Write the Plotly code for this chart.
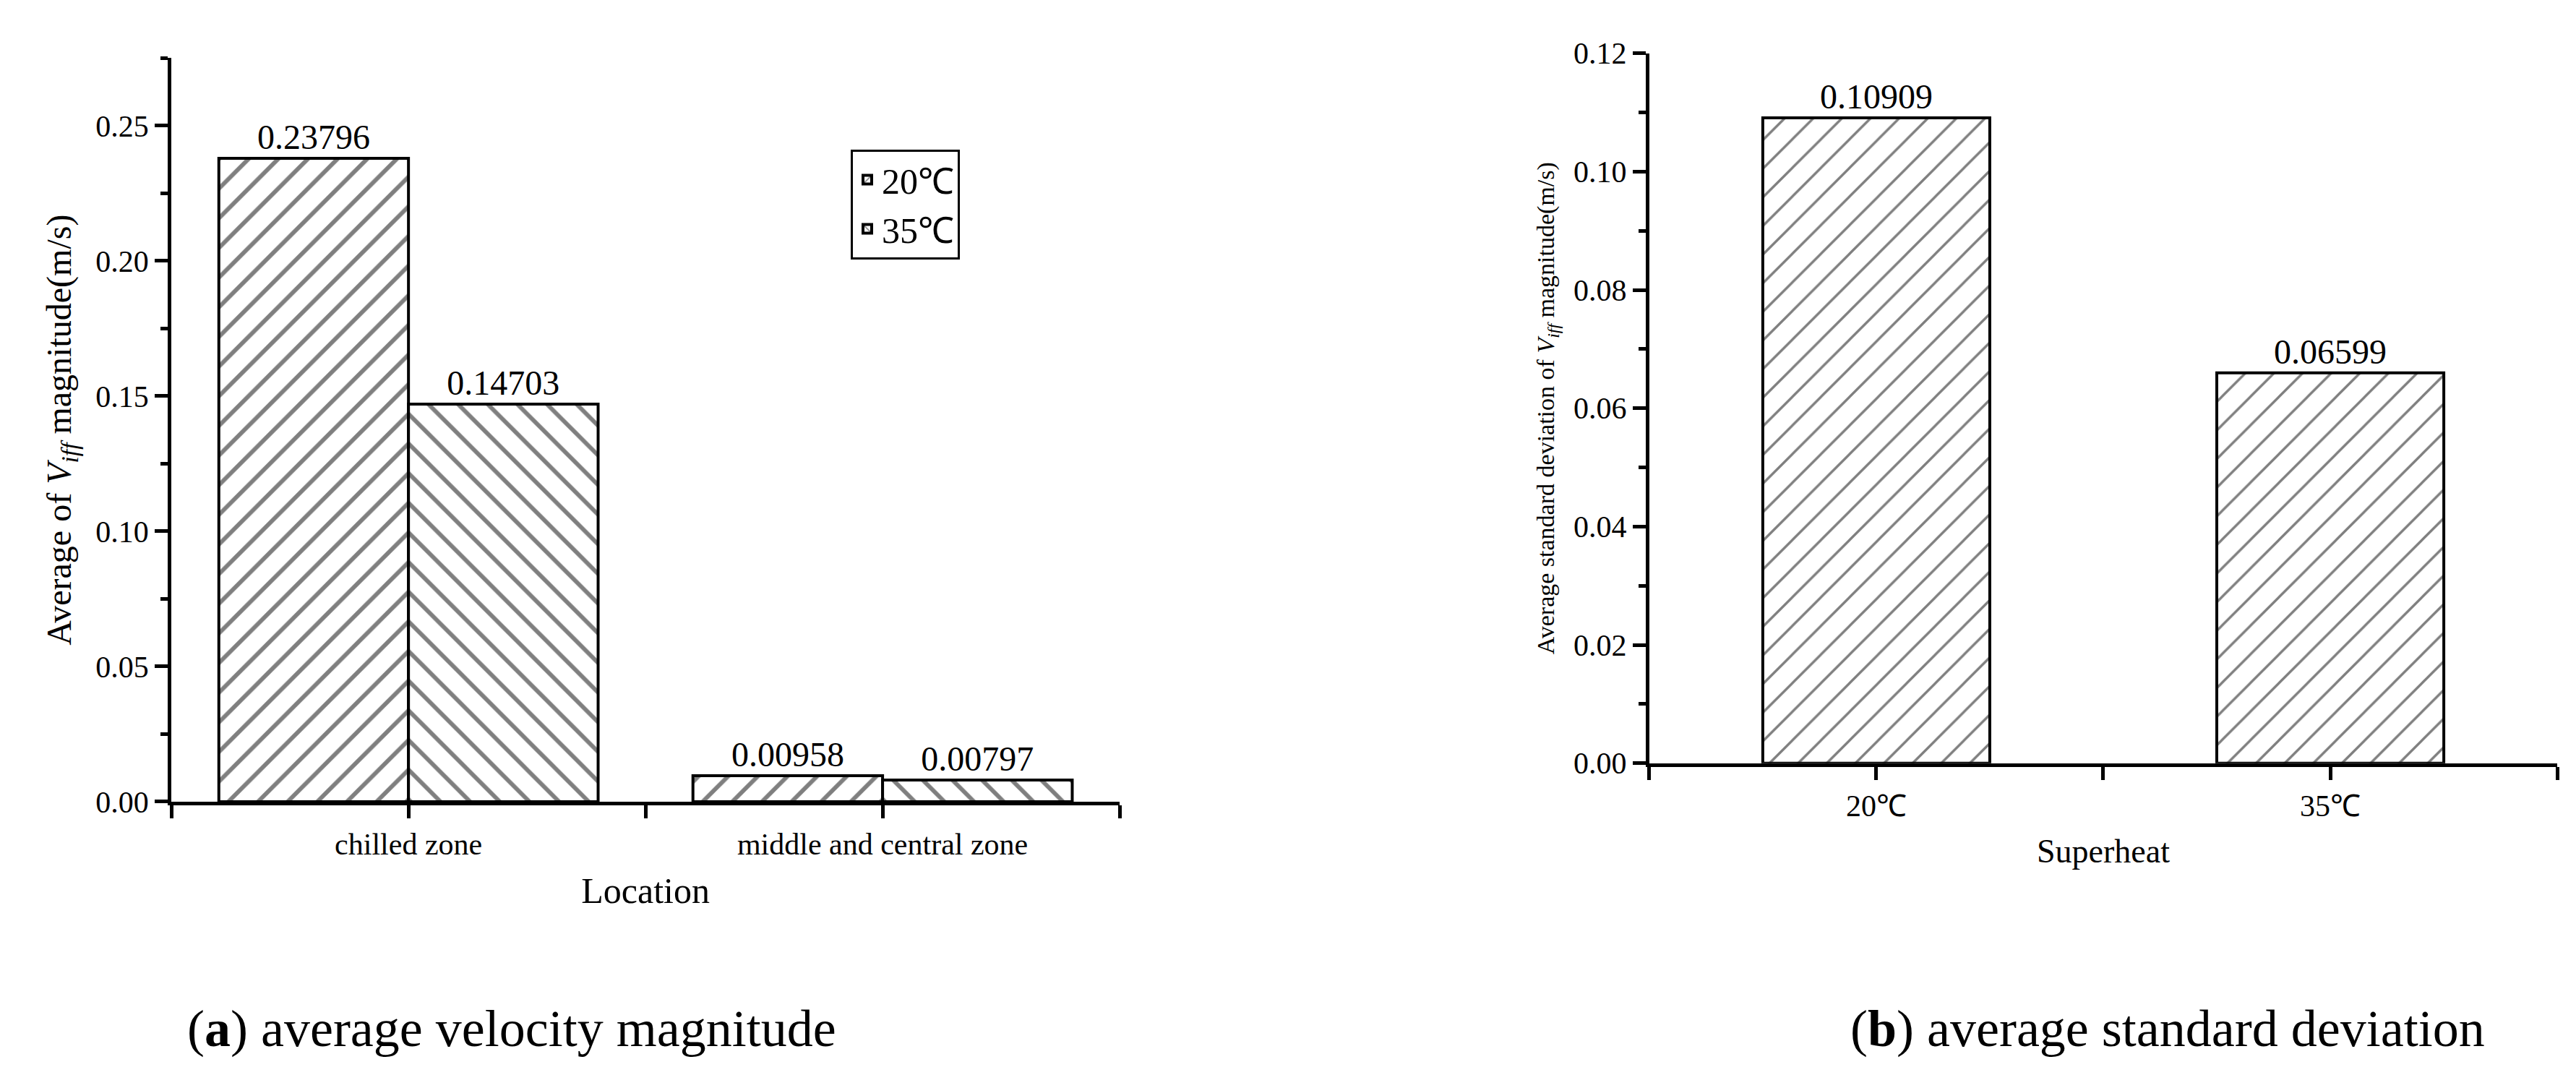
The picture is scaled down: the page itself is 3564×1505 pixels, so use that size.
import plotly.graph_objects as go

locations = ["chilled zone", "middle and central zone"]
v20 = [0.23796, 0.00958]
v35 = [0.14703, 0.00797]
superheat = ["20℃", "35℃"]
std_vals = [0.10909, 0.06599]

F = "Liberation Serif"
fig = go.Figure()
xpos = [0, 1]
fig.add_trace(go.Bar(x=xpos, y=v20, name="20℃", width=0.4, offset=-0.4,
    marker=dict(color="white", line=dict(color="black", width=4),
                pattern=dict(shape="/", fgcolor="black", bgcolor="white", size=29, solidity=0.2)),
    text=[f"{v:.5f}" for v in v20], textposition="outside", textfont=dict(family=F, size=48, color="black"),
    cliponaxis=False, xaxis="x", yaxis="y"))
fig.add_trace(go.Bar(x=xpos, y=v35, name="35℃", width=0.4, offset=0,
    marker=dict(color="white", line=dict(color="black", width=4),
                pattern=dict(shape="\\", fgcolor="black", bgcolor="white", size=29, solidity=0.2)),
    text=[f"{v:.5f}" for v in v35], textposition="outside", textfont=dict(family=F, size=48, color="black"),
    cliponaxis=False, xaxis="x", yaxis="y"))
fig.add_trace(go.Bar(x=xpos, y=std_vals, width=0.5, showlegend=False,
    marker=dict(color="white", line=dict(color="black", width=4),
                pattern=dict(shape="/", fgcolor="black", bgcolor="white", size=28, solidity=0.12)),
    text=[f"{v:.5f}" for v in std_vals], textposition="outside", textfont=dict(family=F, size=48, color="black"),
    cliponaxis=False, xaxis="x2", yaxis="y2"))

ax = dict(showline=True, linecolor="black", linewidth=5, ticks="outside", tickwidth=5,
          ticklen=18, tickcolor="black", showgrid=False, zeroline=False,
          tickfont=dict(family=F, size=42, color="black"))
xax = dict(ax, range=[-0.5, 1.5], tickvals=[0, 1],
           minor=dict(tickvals=[-0.5, 0.5, 1.5], ticks="outside", ticklen=18, tickwidth=5, tickcolor="black"))
fig.update_layout(
    width=3564, height=1505, margin=dict(l=0, r=0, t=0, b=0),
    paper_bgcolor="white", plot_bgcolor="white", barmode="overlay",
    xaxis=dict(xax, domain=[0.0643, 0.4324], ticktext=locations,
               title=dict(text="Location", font=dict(family=F, size=50, color="black"), standoff=25)),
    yaxis=dict(ax, domain=[0.2605, 0.9654], range=[0, 0.275], tickvals=[0, 0.05, 0.1, 0.15, 0.2, 0.25],
               ticktext=["0.00", "0.05", "0.10", "0.15", "0.20", "0.25"],
               minor=dict(dtick=0.025, ticks="outside", ticklen=10, tickwidth=5, tickcolor="black"),
               title=dict(text="Average of <i>V<sub>iff</sub></i> magnitude(m/s)",
                          font=dict(family=F, size=48, color="black"), standoff=20)),
    xaxis2=dict(xax, domain=[0.638, 0.9905], ticktext=superheat, anchor="y2",
                title=dict(text="Superheat", font=dict(family=F, size=46, color="black"), standoff=25)),
    yaxis2=dict(ax, domain=[0.297, 0.970], range=[0, 0.12], anchor="x2",
                tickvals=[0, 0.02, 0.04, 0.06, 0.08, 0.10, 0.12],
                ticktext=["0.00", "0.02", "0.04", "0.06", "0.08", "0.10", "0.12"],
                minor=dict(dtick=0.01, ticks="outside", ticklen=10, tickwidth=5, tickcolor="black"),
                title=dict(text="Average standard deviation of <i>V<sub>iff</sub></i> magnitude(m/s)",
                           font=dict(family=F, size=34, color="black"), standoff=18)),
    legend=dict(x=0.328, y=0.879, xanchor="left", yanchor="top", bordercolor="black", borderwidth=3,
                font=dict(family=F, size=50, color="black"), bgcolor="white", tracegroupgap=0),
    annotations=[
        dict(text="(<b>a</b>) average velocity magnitude", x=0.07, y=1 - 1437 / 1505, xref="paper", yref="paper",
             xanchor="left", yanchor="middle", showarrow=False, font=dict(family=F, size=72, color="black")),
        dict(text="(<b>b</b>) average standard deviation", x=0.963, y=1 - 1437 / 1505, xref="paper", yref="paper",
             xanchor="right", yanchor="middle", showarrow=False, font=dict(family=F, size=72, color="black")),
    ],
)
fig.write_html("out.html")
